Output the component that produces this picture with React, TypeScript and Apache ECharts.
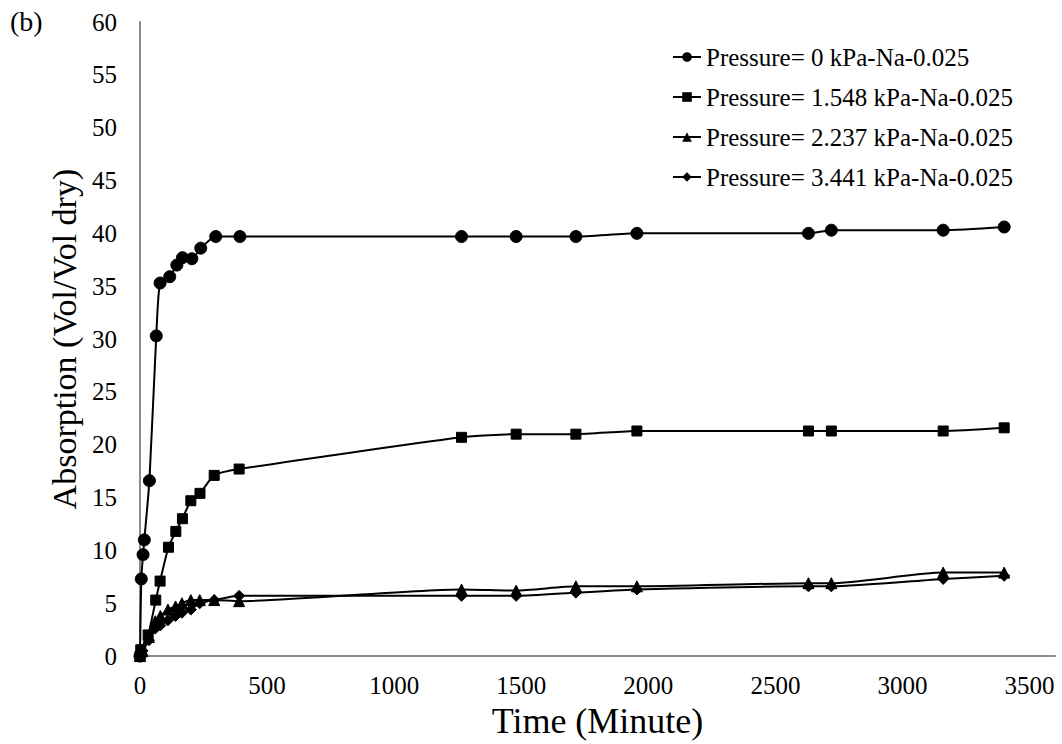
import React, { useEffect, useRef } from "react";
import * as echarts from "echarts";

const FONT = "'Liberation Serif', serif";

const seriesNames = [
  "Pressure= 0 kPa-Na-0.025",
  "Pressure= 1.548 kPa-Na-0.025",
  "Pressure= 2.237 kPa-Na-0.025",
  "Pressure= 3.441 kPa-Na-0.025",
];

// Time (minute) and absorption values for each series
const t0 = [0, 5, 12, 17, 37, 64, 79, 117, 145, 167, 204, 239, 298, 393, 1265, 1480, 1715, 1955, 2630, 2720, 3160, 3400];
const v0 = [0, 7.3, 9.6, 11.0, 16.6, 30.3, 35.3, 35.9, 37.0, 37.7, 37.6, 38.6, 39.7, 39.7, 39.7, 39.7, 39.7, 40.0, 40.0, 40.3, 40.3, 40.6];

const t1 = [0, 3, 32, 62, 79, 112, 141, 167, 200, 236, 292, 390, 1265, 1480, 1715, 1955, 2630, 2720, 3160, 3400];
const v1 = [0, 0.6, 2.0, 5.3, 7.1, 10.3, 11.8, 13.0, 14.7, 15.4, 17.1, 17.7, 20.7, 21.0, 21.0, 21.3, 21.3, 21.3, 21.3, 21.6];

const t2 = [0, 10, 35, 60, 80, 110, 140, 165, 200, 235, 292, 390, 1265, 1480, 1715, 1955, 2630, 2720, 3160, 3400];
const v2 = [0, 0.5, 1.8, 3.3, 3.8, 4.4, 4.7, 5.0, 5.3, 5.3, 5.3, 5.2, 6.3, 6.2, 6.6, 6.6, 6.9, 6.9, 7.9, 7.9];

const t3 = [0, 10, 35, 60, 80, 110, 140, 165, 200, 235, 292, 390, 1265, 1480, 1715, 1955, 2630, 2720, 3160, 3400];
const v3 = [0, 0.5, 1.5, 2.6, 2.9, 3.4, 3.8, 4.1, 4.4, 5.0, 5.3, 5.7, 5.7, 5.7, 6.0, 6.3, 6.6, 6.6, 7.3, 7.6];

const symbols = ["circle", "rect", "triangle", "diamond"];
const symbolSizes = [12, 10, 11, 11];

const xTicks = [0, 500, 1000, 1500, 2000, 2500, 3000, 3500];

const zip = (t: number[], v: number[]) => t.map((x, i) => [x, v[i]]);

export default function App() {
  const ref = useRef<HTMLDivElement>(null);
  useEffect(() => {
    if (!ref.current) return;
    const chart = echarts.init(ref.current, null, { renderer: "svg" });
    const data = [zip(t0, v0), zip(t1, v1), zip(t2, v2), zip(t3, v3)];
    chart.setOption({
      animation: false,
      backgroundColor: "#ffffff",
      textStyle: { fontFamily: FONT, color: "#000" },
      grid: { left: 140, right: 7, top: 22, bottom: 84 },
      graphic: [
        {
          type: "text",
          left: 10,
          top: 7,
          style: { text: "(b)", fontSize: 28, fontFamily: FONT, fill: "#000" },
        },
      ],
      legend: {
        orient: "vertical",
        left: 667,
        top: 39,
        itemWidth: 28,
        itemHeight: 12,
        itemGap: 14,
        textStyle: { fontFamily: FONT, fontSize: 25, color: "#000", lineHeight: 26 },
        data: seriesNames,
      },
      xAxis: [
        {
          type: "value",
          min: 0,
          max: 3600,
          interval: 500,
          name: "Time (Minute)",
          nameLocation: "middle",
          nameGap: 38,
          nameTextStyle: { fontFamily: FONT, fontSize: 36, color: "#000" },
          axisLine: { show: true, lineStyle: { color: "#d9d9d9", width: 1.5 } },
          axisTick: { show: false },
          splitLine: { show: false },
          axisLabel: {
            fontFamily: FONT,
            fontSize: 25,
            color: "#000",
            margin: 17,
            showMaxLabel: false,
            formatter: (v: number) => (xTicks.includes(v) ? String(v) : ""),
          },
        },
        {
          type: "value",
          position: "top",
          min: 0,
          max: 3600,
          axisLine: { show: true, lineStyle: { color: "#8c8c8c", width: 2 } },
          axisTick: { show: false },
          axisLabel: { show: false },
          splitLine: { show: false },
        },
      ],
      yAxis: [
        {
          type: "value",
          min: 0,
          max: 60,
          interval: 5,
          name: "Absorption (Vol/Vol dry)",
          nameLocation: "middle",
          nameGap: 57,
          nameTextStyle: { fontFamily: FONT, fontSize: 34, color: "#000" },
          axisLine: { show: true, lineStyle: { color: "#d9d9d9", width: 1.5 } },
          axisTick: { show: false },
          splitLine: { show: false },
          axisLabel: { fontFamily: FONT, fontSize: 25, color: "#000", margin: 23 },
        },
        {
          type: "value",
          position: "right",
          min: 0,
          max: 60,
          axisLine: { show: true, lineStyle: { color: "#8c8c8c", width: 2 } },
          axisTick: { show: false },
          axisLabel: { show: false },
          splitLine: { show: false },
        },
      ],
      series: seriesNames.map((name, i) => ({
        name,
        type: "line",
        xAxisIndex: 0,
        yAxisIndex: 0,
        data: data[i],
        smooth: 0.2,
        symbol: symbols[i],
        symbolSize: symbolSizes[i],
        showAllSymbol: true,
        lineStyle: { color: "#000", width: 2 },
        itemStyle: { color: "#000", borderColor: "#000" },
        emphasis: { disabled: true },
      })),
    });
    return () => chart.dispose();
  }, []);
  return (
    <div
      ref={ref}
      style={{ position: "fixed", left: 0, top: 0, width: 1062, height: 744, background: "#fff" }}
    />
  );
}
